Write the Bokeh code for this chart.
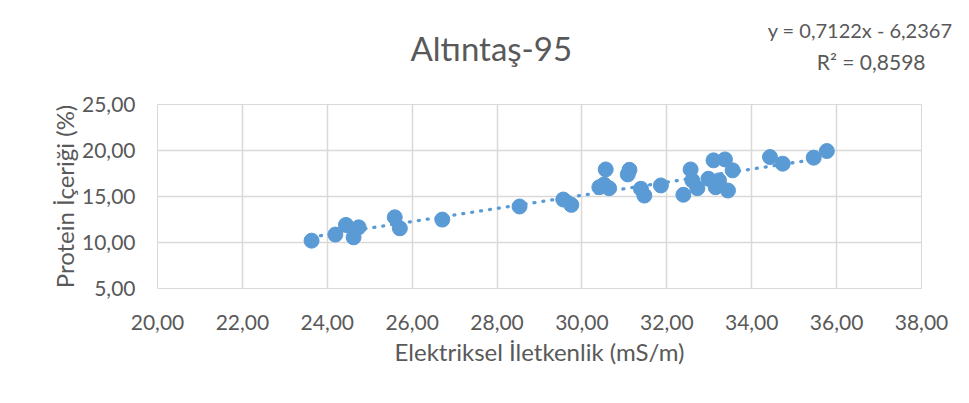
from bokeh.plotting import figure
from bokeh.models import FixedTicker, Title
from bokeh.embed import file_html
from bokeh.resources import INLINE

# ---- data ----
conductivity = [23.63, 24.19, 24.44, 24.74, 24.62, 25.59, 25.71, 26.71,
                28.53, 29.56, 29.75, 30.41, 30.64, 30.52, 30.56, 31.12,
                31.08, 31.39, 31.47, 31.86, 32.39, 32.56, 32.60, 32.72,
                33.10, 33.37, 32.98, 33.23, 33.15, 33.55, 33.44, 34.43,
                34.73, 35.46, 35.77]
protein = [10.20, 10.86, 11.91, 11.65, 10.56, 12.74, 11.54, 12.49,
           13.91, 14.67, 14.09, 16.01, 15.90, 16.30, 17.94, 17.90,
           17.40, 15.84, 15.10, 16.20, 15.19, 17.94, 16.75, 15.90,
           18.93, 19.03, 16.93, 16.75, 16.01, 17.84, 15.65, 19.29,
           18.57, 19.22, 19.94]
slope = 0.7122
intercept = -6.2367
r_squared = 0.8598
x_ticks = [20, 22, 24, 26, 28, 30, 32, 34, 36, 38]
y_ticks = [5, 10, 15, 20, 25]
title_text = "Altıntaş-95"
x_title = "Elektriksel İletkenlik (mS/m)"
y_title = "Protein İçeriği (%)"

FONT = "Lato"
TXT = "#595959"
GRID = "#D9D9D9"
BLUE = "#5B9BD5"

def fmt(v):
    return f"{v:.2f}".replace(".", ",")

def dec(v):
    return str(v).replace(".", ",")

W, H = 969, 403
BL, BR, BT, BB = 157, 48, 104, 115

p = figure(width=W, height=H, output_backend="svg", toolbar_location=None,
           x_range=(x_ticks[0], x_ticks[-1]), y_range=(y_ticks[0], y_ticks[-1]),
           min_border_left=BL, min_border_right=BR, min_border_top=BT,
           min_border_bottom=BB)
p.title = None
p.outline_line_color = GRID
p.background_fill_color = "white"
p.border_fill_color = "white"

for ax in (p.xaxis[0], p.yaxis[0]):
    ax.axis_line_color = None
    ax.major_tick_line_color = None
    ax.minor_tick_line_color = None
    ax.major_label_text_font = FONT
    ax.major_label_text_font_size = "21px"
    ax.major_label_text_color = TXT
    ax.axis_label_text_font = FONT
    ax.axis_label_text_font_size = "24px"
    ax.axis_label_text_font_style = "normal"
    ax.axis_label_text_color = TXT

p.xaxis[0].ticker = FixedTicker(ticks=x_ticks)
p.yaxis[0].ticker = FixedTicker(ticks=y_ticks)
p.xaxis[0].major_label_overrides = {t: fmt(t) for t in x_ticks}
p.yaxis[0].major_label_overrides = {t: fmt(t) for t in y_ticks}
p.xaxis[0].axis_label = x_title
p.yaxis[0].axis_label = y_title
p.xaxis[0].major_label_standoff = 20
p.yaxis[0].major_label_standoff = 16
p.xaxis[0].axis_label_standoff = 4
p.yaxis[0].axis_label_standoff = 0

p.xgrid.ticker = FixedTicker(ticks=x_ticks)
p.ygrid.ticker = FixedTicker(ticks=y_ticks)
p.xgrid.grid_line_color = GRID
p.ygrid.grid_line_color = GRID
p.xgrid.grid_line_width = 1.5
p.ygrid.grid_line_width = 1.5

# trend line from the published fit
x0, x1 = min(conductivity), max(conductivity)
p.line([x0, x1], [slope * x0 + intercept, slope * x1 + intercept],
       line_color=BLUE, line_width=3.3, line_dash="1 8", line_cap="round")

p.scatter(conductivity, protein, size=15, fill_color=BLUE, line_color=BLUE)

# titles stacked above the frame (nearest first)
def make_title(text, size, align, offset, standoff):
    return Title(text=text, align=align, offset=offset, standoff=standoff,
                 text_font=FONT, text_font_size=size, text_font_style="normal",
                 text_color=TXT)

p.add_layout(make_title(f"R² = {dec(r_squared)}", "21px", "right", -4, 61), "above")
p.add_layout(make_title(f"y = {dec(slope)}x - {dec(-intercept)}", "20px", "right", -31, -50), "above")
p.add_layout(make_title(title_text, "33px", "left", 253, -102), "above")

open("out.html", "w").write(file_html(p, INLINE))
